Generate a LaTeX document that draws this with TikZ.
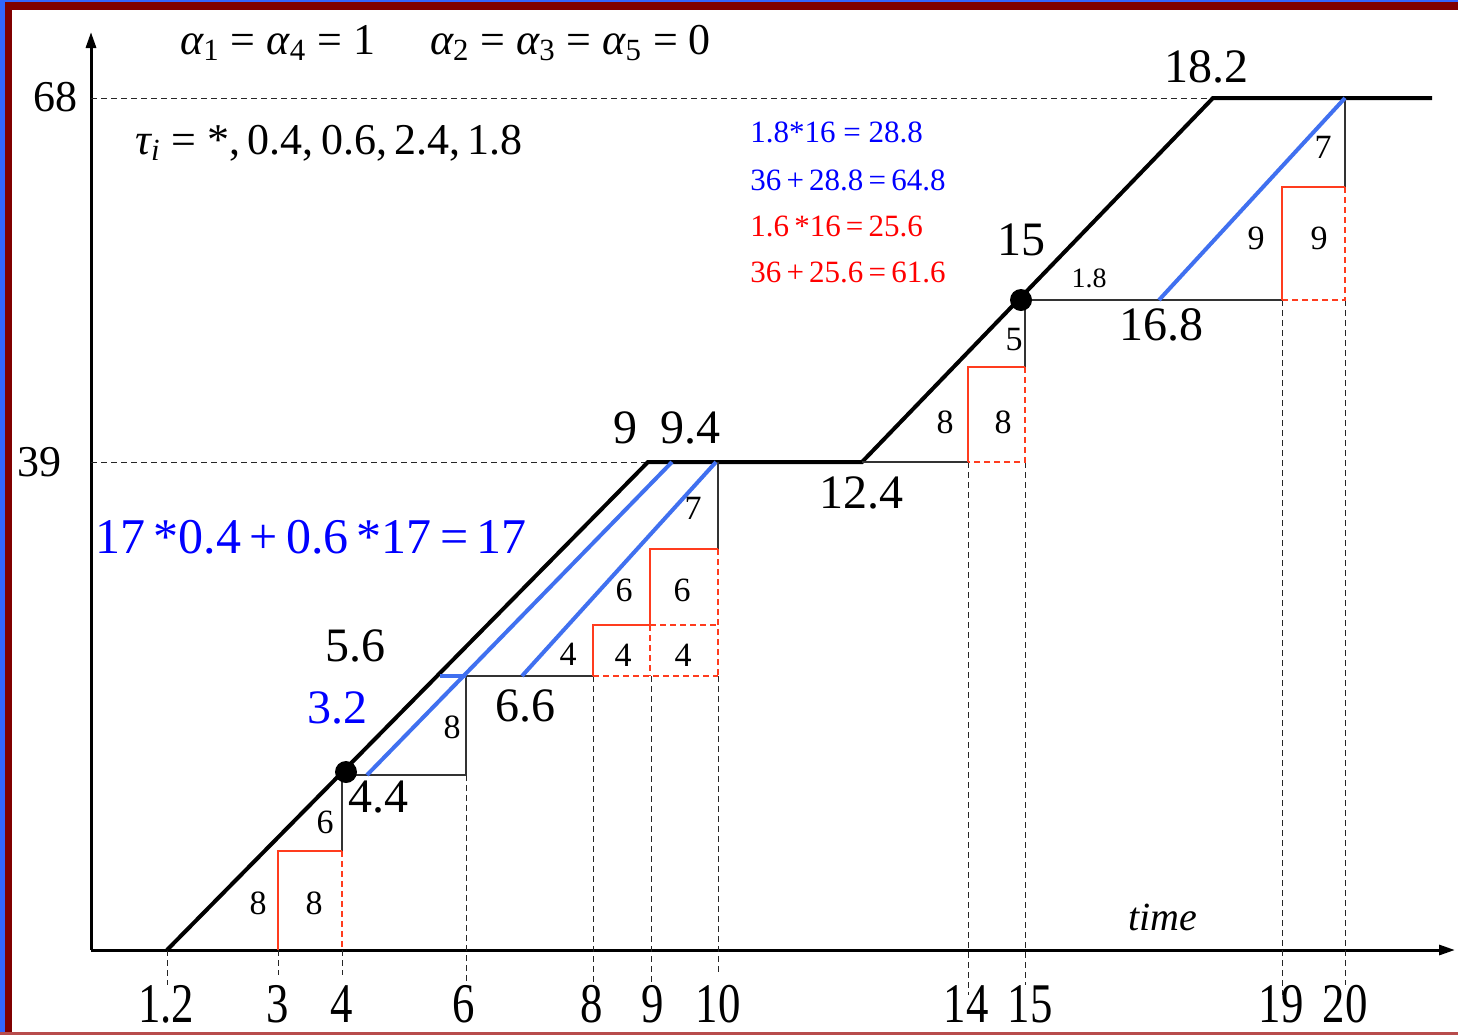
\documentclass[tikz,border=0pt]{standalone}
\usepackage{fontspec}
\setmainfont{Liberation Serif}
\usepackage{xcolor}
\usetikzlibrary{arrows.meta}

\definecolor{frameblue}{RGB}{51,102,255}
\definecolor{framered}{RGB}{128,0,0}
\definecolor{lineblue}{RGB}{64,112,240}
\definecolor{boxred}{RGB}{255,60,30}

\newcommand{\al}[1]{{\itshape α}\textsubscript{#1}}

\begin{document}
\begin{tikzpicture}[x=0.5pt, y=-0.5pt,
      curve/.style={line width=2pt, line join=miter},
      stair/.style={line width=0.7pt, black!80},
      guide/.style={line width=0.5pt, black!85, dash pattern=on 3pt off 2pt},
      rbox/.style={line width=0.7pt, boxred},
      rdash/.style={line width=0.7pt, boxred, dash pattern=on 3pt off 2pt},
      bline/.style={line width=2pt, lineblue},
      axis/.style={line width=1.5pt, -{Triangle[length=8pt, width=5pt]}},
      lab/.style={font=\fontsize{17}{17}\selectfont, inner sep=0pt},
      big/.style={font=\fontsize{24}{24}\selectfont, inner sep=0pt},
      ticklab/.style={font=\fontsize{28}{28}\selectfont, inner sep=0pt},
      eq/.style={font=\fontsize{15.5}{15.5}\selectfont, inner sep=0pt, anchor=west}]
    \useasboundingbox (0,0) rectangle (1458,1035);
    % frame
    \fill[white] (0,0) rectangle (1458,1035);
    \fill[framered] (0,0) rectangle (1458,10);
    \fill[framered] (0,0) rectangle (12,1035);
    \fill[frameblue] (0,0) rectangle (1458,2);
    \fill[frameblue] (0,0) rectangle (5,1035);
    \fill[red!60!black!70] (0,1032) rectangle (1458,1035);

    % axes
    \coordinate (O) at (91,950);
    \coordinate (ytop) at (91,32);
    \coordinate (xend) at (1455,950);
    \draw[axis] (O) -- (ytop);
    \draw[axis] (O) -- (xend);
    \node[font=\fontsize{22}{22}\selectfont, inner sep=0pt] (l68) at (55,97) {68};
    \node[font=\fontsize{22}{22}\selectfont, inner sep=0pt] (l39) at (40,462) {39};
    \draw[guide] (91,98) -- (1213,98);
    \draw[guide] (91,462) -- (648,462);
    \node[font=\fontsize{20}{20}\selectfont\itshape, inner sep=0pt] (tm) at (1163,917) {time};

    % vertical guides and tick labels
    \foreach \x/\ya/\yb in {167/950/985, 278/950/975, 342/950/975,
        466/775/985, 593/676/985, 651/676/985, 718/676/975,
        968/462/995, 1025/462/985, 1282/300/995, 1345/300/985} {
      \draw[guide] (\x,\ya) -- (\x,\yb);
    }
    \foreach \x/\t in {166/1.2, 278/3, 342/4, 464/6, 592/8, 653/9, 718/10,
        966/14, 1030/15, 1281/19, 1345/20} {
      \node[ticklab] (t\t) at (\x,1004) {\scalebox{0.8}[1]{\t}};
    }

    % cumulative curve
    \coordinate (c0) at (167,950);
    \coordinate (c1) at (648,462);
    \coordinate (c2) at (862,462);
    \coordinate (c3) at (1213,98);
    \coordinate (c4) at (1432,98);
    \draw[curve] (c0) -- (c1) -- (c2) -- (c3) -- (c4);

    % staircases
    \draw[stair] (342,851) -- (342,775) -- (466,775) -- (466,676) -- (593,676);
    \draw[stair] (718,549) -- (718,462);
    \draw[stair] (862,462) -- (968,462);
    \draw[stair] (1025,367) -- (1025,300) -- (1282,300);
    \draw[stair] (1345,187) -- (1345,98);

    % red boxes
    \draw[rbox] (278,950) -- (278,851) -- (342,851);
    \draw[rdash] (342,851) -- (342,950);
    \draw[rbox] (593,676) -- (593,625) -- (650,625) -- (650,549) -- (718,549);
    \draw[rdash] (650,625) -- (718,625);
    \draw[rdash] (593,676) -- (718,676);
    \draw[rdash] (650,625) -- (650,676);
    \draw[rdash] (718,549) -- (718,676);
    \draw[rbox] (968,462) -- (968,367) -- (1025,367);
    \draw[rdash] (1025,367) -- (1025,462) -- (968,462);
    \draw[rbox] (1282,300) -- (1282,187) -- (1345,187);
    \draw[rdash] (1345,187) -- (1345,300) -- (1282,300);

    % blue lines
    \draw[bline] (367,775) -- (672,462);
    \draw[bline] (440,676) -- (466,676);
    \draw[bline] (522,676) -- (716,462);
    \draw[bline] (1159,300) -- (1345,98);

    % dots
    \fill (346,772) circle (5.5pt);
    \fill (1021,300) circle (5.5pt);

    % small labels
    \foreach \x/\y/\t in {258/903/8, 314/903/8, 325/822/6, 452/727/8,
        568/654/4, 623/655/4, 683/655/4, 624/590/6, 682/590/6, 693/508/7,
        945/422/8, 1003/422/8, 1014/340/5, 1256/238/9, 1319/238/9, 1323/147/7} {
      \node[lab] at (\x,\y) {\t};
    }
    \node[font=\fontsize{14}{14}\selectfont, inner sep=0pt] (l18) at (1089,278) {1.8};

    % big labels
    \node[big] (l56) at (355,646) {5.6};
    \node[big, blue] (l32) at (337,708) {3.2};
    \node[big] (l44) at (378,797) {4.4};
    \node[big] (l66) at (525,706) {6.6};
    \node[big] (l9) at (625,428) {9};
    \node[big] (l94) at (690,428) {9.4};
    \node[big] (l124) at (861,493) {12.4};
    \node[big] (l15) at (1021,240) {15};
    \node[big] (l168) at (1161,325) {16.8};
    \node[big] (l182) at (1206,67) {18.2};

    % formulas
    \node[font=\fontsize{22}{22}\selectfont, inner sep=0pt, anchor=west] (alpha) at (180,43)
      {\al{1} = \al{4} = 1 \quad\al{2} = \al{3} = \al{5} = 0};
    \node[font=\fontsize{22}{22}\selectfont, inner sep=0pt, anchor=west] (tau) at (135,143)
      {{\itshape τ}\textsubscript{\itshape i} = *,\,0.4,\,0.6,\,2.4,\,1.8};
    \node[font=\fontsize{25}{25}\selectfont, inner sep=0pt, anchor=west, blue] (sum) at (95,537)
      {17\,*0.4\,+\,0.6\,*17\,=\,17};
    \node[eq, blue] (e1) at (750,132) {1.8*16 = 28.8};
    \node[eq, blue] (e2) at (750,180) {36\,+\,28.8\,=\,64.8};
    \node[eq, red] (e3) at (750,226) {1.6\,*16\,=\,25.6};
    \node[eq, red] (e4) at (750,272) {36\,+\,25.6\,=\,61.6};
  \end{tikzpicture}
\end{document}
